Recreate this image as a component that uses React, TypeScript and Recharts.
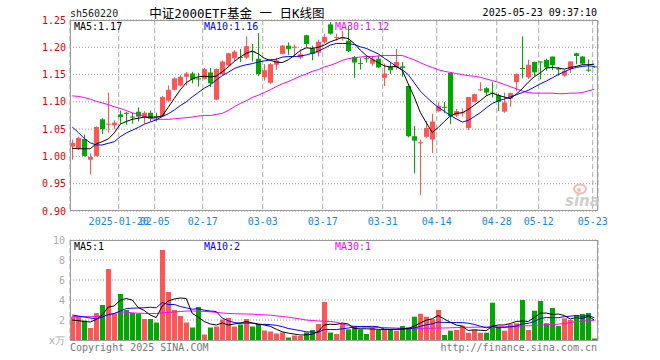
import React from "react";
import { ComposedChart, Bar, Line, XAxis, YAxis, CartesianGrid } from "recharts";

// 560220 daily candles, 2025-01-08 .. 2025-05-23
const dates = [
  "2025-01-08", "2025-01-09", "2025-01-10", "2025-01-13", "2025-01-14", "2025-01-15", "2025-01-16", "2025-01-17", "2025-01-20", "2025-01-21",
  "2025-01-22", "2025-01-23", "2025-01-24", "2025-01-27", "2025-02-05", "2025-02-06", "2025-02-07", "2025-02-10", "2025-02-11", "2025-02-12",
  "2025-02-13", "2025-02-14", "2025-02-17", "2025-02-18", "2025-02-19", "2025-02-20", "2025-02-21", "2025-02-24", "2025-02-25", "2025-02-26",
  "2025-02-27", "2025-02-28", "2025-03-03", "2025-03-04", "2025-03-05", "2025-03-06", "2025-03-07", "2025-03-10", "2025-03-11", "2025-03-12",
  "2025-03-13", "2025-03-14", "2025-03-17", "2025-03-18", "2025-03-19", "2025-03-20", "2025-03-21", "2025-03-24", "2025-03-25", "2025-03-26",
  "2025-03-27", "2025-03-28", "2025-03-31", "2025-04-01", "2025-04-02", "2025-04-03", "2025-04-07", "2025-04-08", "2025-04-09", "2025-04-10",
  "2025-04-11", "2025-04-14", "2025-04-15", "2025-04-16", "2025-04-17", "2025-04-18", "2025-04-21", "2025-04-22", "2025-04-23", "2025-04-24",
  "2025-04-25", "2025-04-28", "2025-04-29", "2025-04-30", "2025-05-06", "2025-05-07", "2025-05-08", "2025-05-09", "2025-05-12", "2025-05-13",
  "2025-05-14", "2025-05-15", "2025-05-16", "2025-05-19", "2025-05-20", "2025-05-21", "2025-05-22", "2025-05-23",
];

const open = [
  1.018, 1.014, 1.032, 0.994, 1.001, 1.068, 1.059, 1.057, 1.077, 1.080,
  1.073, 1.082, 1.071, 1.080, 1.073, 1.074, 1.102, 1.122, 1.130, 1.146,
  1.152, 1.143, 1.142, 1.154, 1.104, 1.151, 1.167, 1.180, 1.182, 1.181,
  1.193, 1.179, 1.145, 1.135, 1.168, 1.188, 1.203, 1.199, 1.181, 1.222,
  1.198, 1.190, 1.209, 1.242, 1.217, 1.217, 1.212, 1.182, 1.171, 1.180,
  1.170, 1.179, 1.144, 1.164, 1.163, 1.165, 1.129, 1.037, 1.024, 1.036,
  1.031, 1.083, 1.091, 1.153, 1.075, 1.079, 1.052, 1.100, 1.121, 1.125,
  1.117, 1.112, 1.082, 1.106, 1.136, 1.162, 1.145, 1.173, 1.174, 1.177,
  1.183, 1.161, 1.148, 1.160, 1.189, 1.183, 1.159, 1.165,
];
const close = [
  1.025, 1.034, 1.001, 0.999, 1.054, 1.050, 1.060, 1.062, 1.072, 1.078,
  1.071, 1.073, 1.080, 1.069, 1.072, 1.109, 1.122, 1.143, 1.146, 1.152,
  1.141, 1.141, 1.160, 1.134, 1.160, 1.174, 1.189, 1.192, 1.181, 1.202,
  1.192, 1.151, 1.158, 1.169, 1.176, 1.203, 1.197, 1.201, 1.187, 1.206,
  1.188, 1.210, 1.219, 1.225, 1.219, 1.218, 1.193, 1.172, 1.170, 1.179,
  1.178, 1.163, 1.152, 1.158, 1.173, 1.162, 1.037, 1.029, 1.026, 1.052,
  1.064, 1.093, 1.089, 1.074, 1.083, 1.081, 1.109, 1.114, 1.123, 1.117,
  1.116, 1.100, 1.099, 1.116, 1.151, 1.161, 1.168, 1.154, 1.173, 1.163,
  1.167, 1.160, 1.157, 1.174, 1.184, 1.170, 1.158, 1.164,
];
const high = [
  1.031, 1.036, 1.040, 1.006, 1.055, 1.070, 1.117, 1.066, 1.084, 1.082,
  1.080, 1.090, 1.083, 1.084, 1.080, 1.111, 1.130, 1.145, 1.149, 1.155,
  1.155, 1.153, 1.162, 1.162, 1.161, 1.176, 1.190, 1.195, 1.197, 1.220,
  1.206, 1.226, 1.169, 1.171, 1.181, 1.204, 1.209, 1.205, 1.196, 1.223,
  1.203, 1.214, 1.225, 1.246, 1.225, 1.230, 1.240, 1.184, 1.180, 1.185,
  1.184, 1.185, 1.170, 1.172, 1.197, 1.173, 1.130, 1.056, 1.031, 1.065,
  1.078, 1.099, 1.100, 1.154, 1.087, 1.088, 1.109, 1.115, 1.136, 1.127,
  1.136, 1.115, 1.117, 1.117, 1.152, 1.220, 1.177, 1.174, 1.174, 1.179,
  1.183, 1.164, 1.159, 1.174, 1.190, 1.184, 1.178, 1.166,
];
const low = [
  0.994, 1.012, 1.000, 0.967, 1.000, 1.041, 1.044, 1.050, 1.060, 1.058,
  1.060, 1.064, 1.060, 1.064, 1.064, 1.072, 1.100, 1.121, 1.128, 1.130,
  1.134, 1.128, 1.141, 1.127, 1.103, 1.149, 1.165, 1.175, 1.173, 1.179,
  1.174, 1.147, 1.139, 1.133, 1.159, 1.187, 1.186, 1.184, 1.178, 1.200,
  1.176, 1.183, 1.207, 1.223, 1.212, 1.212, 1.191, 1.144, 1.159, 1.172,
  1.166, 1.162, 1.129, 1.151, 1.159, 1.146, 1.035, 0.969, 0.929, 1.034,
  1.006, 1.082, 1.079, 1.059, 1.072, 1.073, 1.048, 1.099, 1.120, 1.111,
  1.108, 1.083, 1.080, 1.091, 1.120, 1.143, 1.142, 1.147, 1.141, 1.157,
  1.158, 1.148, 1.146, 1.153, 1.169, 1.168, 1.155, 1.162,
];

const ma5 = [
  1.015, 1.014, 1.014, 1.014, 1.023, 1.027, 1.032, 1.043, 1.059, 1.064,
  1.068, 1.070, 1.072, 1.072, 1.072, 1.074, 1.090, 1.106, 1.122, 1.135,
  1.142, 1.146, 1.147, 1.146, 1.147, 1.155, 1.164, 1.174, 1.182, 1.189,
  1.193, 1.188, 1.180, 1.176, 1.173, 1.172, 1.177, 1.185, 1.194, 1.199,
  1.198, 1.200, 1.204, 1.210, 1.214, 1.218, 1.216, 1.207, 1.195, 1.185,
  1.178, 1.172, 1.166, 1.164, 1.165, 1.158, 1.133, 1.109, 1.081, 1.062,
  1.044, 1.053, 1.064, 1.074, 1.079, 1.080, 1.086, 1.094, 1.102, 1.111,
  1.116, 1.112, 1.109, 1.106, 1.114, 1.124, 1.136, 1.146, 1.153, 1.162,
  1.163, 1.162, 1.160, 1.163, 1.165, 1.168, 1.168, 1.169,
];
const ma10 = [
  1.054, 1.044, 1.033, 1.025, 1.021, 1.021, 1.024, 1.027, 1.036, 1.043,
  1.048, 1.053, 1.059, 1.063, 1.067, 1.073, 1.078, 1.085, 1.093, 1.100,
  1.109, 1.117, 1.125, 1.131, 1.140, 1.148, 1.154, 1.161, 1.165, 1.168,
  1.170, 1.173, 1.175, 1.177, 1.178, 1.182, 1.183, 1.183, 1.184, 1.186,
  1.189, 1.193, 1.198, 1.204, 1.207, 1.207, 1.207, 1.205, 1.201, 1.198,
  1.193, 1.188, 1.180, 1.173, 1.165, 1.159, 1.150, 1.135, 1.120, 1.109,
  1.099, 1.090, 1.083, 1.075, 1.069, 1.063, 1.066, 1.073, 1.080, 1.089,
  1.097, 1.102, 1.105, 1.109, 1.113, 1.117, 1.121, 1.127, 1.133, 1.138,
  1.144, 1.150, 1.155, 1.160, 1.163, 1.165, 1.166, 1.165,
];
const ma30 = [
  1.111, 1.110, 1.108, 1.105, 1.101, 1.098, 1.095, 1.091, 1.088, 1.084,
  1.080, 1.077, 1.074, 1.070, 1.068, 1.068, 1.068, 1.069, 1.070, 1.071,
  1.072, 1.074, 1.075, 1.075, 1.077, 1.079, 1.084, 1.091, 1.097, 1.102,
  1.108, 1.112, 1.117, 1.122, 1.128, 1.133, 1.137, 1.142, 1.147, 1.151,
  1.156, 1.159, 1.164, 1.167, 1.171, 1.176, 1.179, 1.181, 1.182, 1.183,
  1.183, 1.184, 1.185, 1.185, 1.185, 1.185, 1.181, 1.177, 1.172, 1.167,
  1.163, 1.159, 1.156, 1.154, 1.152, 1.150, 1.148, 1.147, 1.145, 1.142,
  1.139, 1.136, 1.132, 1.128, 1.124, 1.120, 1.117, 1.116, 1.116, 1.116,
  1.116, 1.115, 1.115, 1.116, 1.116, 1.117, 1.120, 1.123,
];

// volume, in 万
const vol = [
  2.3, 2.4, 1.95, 1.2, 2.7, 3.5, 7.1, 2.6, 4.6, 3.0,
  2.7, 2.65, 2.1, 2.1, 1.75, 9.0, 4.8, 3.0, 2.4, 1.75,
  1.25, 3.3, 0.55, 1.25, 1.35, 2.05, 2.2, 1.35, 1.55, 2.1,
  1.35, 1.6, 0.95, 0.85, 0.65, 0.75, 0.25, 0.45, 0.4, 0.75,
  1.0, 1.6, 3.8, 0.75, 0.6, 1.6, 1.07, 1.43, 1.07, 0.6,
  1.27, 1.0, 1.1, 1.1, 0.93, 1.4, 1.27, 2.33, 2.63, 2.33,
  2.07, 3.0, 0.5, 0.93, 1.0, 1.43, 0.73, 1.0, 0.73, 0.73,
  3.73, 1.33, 0.93, 1.57, 1.67, 4.0, 1.0, 2.93, 3.9, 1.67,
  3.2, 1.4, 2.17, 2.0, 2.5, 2.6, 2.7, 0.15,
];
const vma5 = [
  2.0, 1.93, 1.85, 1.8, 2.05, 2.5, 3.3, 3.4, 4.0, 4.15,
  4.0, 3.25, 2.95, 2.5, 2.25, 3.4, 3.9, 4.1, 4.2, 4.15,
  2.65, 2.3, 1.85, 1.6, 1.5, 1.7, 1.5, 1.6, 1.7, 1.85,
  1.7, 1.6, 1.5, 1.37, 1.08, 0.82, 0.69, 0.59, 0.5, 0.52,
  0.57, 0.84, 1.5, 1.58, 1.55, 1.7, 1.6, 1.15, 1.12, 1.12,
  1.1, 1.07, 1.05, 1.05, 1.05, 1.1, 1.15, 1.4, 1.7, 1.98,
  2.12, 2.45, 2.1, 1.78, 1.5, 1.38, 0.95, 1.02, 0.98, 0.93,
  1.38, 1.5, 1.5, 1.65, 1.85, 1.9, 1.85, 2.25, 2.68, 2.7,
  2.55, 2.6, 2.45, 2.1, 2.25, 2.15, 2.38, 2.0,
];
const vma10 = [
  2.5, 2.4, 2.3, 2.2, 2.1, 2.3, 2.55, 2.65, 2.9, 3.14,
  3.18, 3.2, 3.22, 3.28, 3.22, 3.75, 3.55, 3.55, 3.35, 3.22,
  3.08, 3.12, 2.98, 2.9, 2.85, 2.2, 1.92, 1.75, 1.67, 1.7,
  1.7, 1.55, 1.57, 1.53, 1.47, 1.34, 1.15, 1.05, 0.94, 0.82,
  0.78, 0.77, 1.05, 1.04, 1.04, 1.12, 1.2, 1.3, 1.36, 1.35,
  1.37, 1.32, 1.1, 1.08, 1.1, 1.1, 1.12, 1.2, 1.36, 1.52,
  1.62, 1.8, 1.76, 1.74, 1.74, 1.74, 1.68, 1.56, 1.38, 1.22,
  1.35, 1.22, 1.25, 1.32, 1.38, 1.62, 1.66, 1.85, 2.15, 2.25,
  2.22, 2.23, 2.33, 2.38, 2.45, 2.35, 2.48, 2.22,
];
const vma30 = [
  2.35, 2.34, 2.33, 2.33, 2.35, 2.4, 2.5, 2.65, 2.8, 2.8,
  2.72, 2.68, 2.66, 2.65, 2.65, 2.72, 2.76, 2.8, 2.85, 2.9,
  2.9, 2.88, 2.86, 2.82, 2.76, 2.7, 2.66, 2.63, 2.61, 2.6,
  2.58, 2.55, 2.52, 2.48, 2.42, 2.35, 2.28, 2.2, 2.1, 2.0,
  1.95, 1.9, 1.88, 1.85, 1.78, 1.6, 1.45, 1.35, 1.3, 1.28,
  1.27, 1.26, 1.25, 1.22, 1.2, 1.18, 1.17, 1.17, 1.17, 1.17,
  1.18, 1.2, 1.2, 1.22, 1.24, 1.26, 1.27, 1.28, 1.29, 1.3,
  1.32, 1.32, 1.33, 1.35, 1.36, 1.4, 1.42, 1.45, 1.5, 1.52,
  1.55, 1.58, 1.65, 1.75, 1.85, 1.9, 1.93, 1.93,
];

const tickDates = [
  "2025-01-20", "2025-02-05", "2025-02-17", "2025-03-03", "2025-03-17",
  "2025-03-31", "2025-04-14", "2025-04-28", "2025-05-12", "2025-05-23",
];
const priceTicks = [0.9, 0.95, 1.0, 1.05, 1.1, 1.15, 1.2, 1.25];
const volTicks = [0, 2, 4, 6, 8, 10];

const RED = "#ff5555";
const GREEN = "#00a800";
const MONO = "'DejaVu Sans Mono', monospace";

const rows = dates.map((d, i) => ({
  i,
  date: d,
  open: open[i],
  close: close[i],
  high: high[i],
  low: low[i],
  ma5: ma5[i],
  ma10: ma10[i],
  ma30: ma30[i],
  vol: vol[i],
  vma5: vma5[i],
  vma10: vma10[i],
  vma30: vma30[i],
}));

// gridlines sit a little left of the candle centre, like the original
const xTicks = tickDates.map((d) => dates.indexOf(d) - 0.25);
const xDomain = [-0.37, 87.63];
const fmtDate = (v: number) => {
  const d = dates[Math.round(v)] || "";
  return v < 10 ? d : d.slice(5);
};

const Candle = (props: any) => {
  const { x, y, width, height, payload } = props;
  if (!payload) return null;
  const { open: o, close: c, high: h, low: l } = payload;
  const top = Math.min(y, y + height);
  const span = Math.abs(height);
  const yOf = (v: number) => top + (h === l ? 0 : ((h - v) / (h - l)) * span);
  const cx = Math.round(x + width / 2);
  const color = c >= o ? RED : GREEN;
  const bTop = yOf(Math.max(o, c));
  const bBot = yOf(Math.min(o, c));
  return (
    <g>
      <line x1={cx + 0.5} x2={cx + 0.5} y1={top} y2={top + span} stroke={color} strokeWidth={1} />
      <rect x={cx - 2} y={bTop} width={5} height={Math.max(1, bBot - bTop)} fill={color} />
    </g>
  );
};

const VolBar = (props: any) => {
  const { x, y, width, height, payload } = props;
  if (!payload) return null;
  const cx = Math.round(x + width / 2);
  const color = payload.close >= payload.open ? RED : GREEN;
  return <rect x={cx - 2} y={y} width={5} height={Math.max(0, height)} fill={color} />;
};

const monoTick = (fill: string) => ({ fill, fontSize: 10, fontFamily: MONO });

export default function App() {
  return (
    <div style={{ position: "absolute", left: 0, top: 0, width: 660, height: 360, background: "#fff" }}>
      <div style={{ position: "absolute", left: 0, top: 0 }}>
        <ComposedChart width={660} height={232} data={rows} margin={{ top: 20, right: 62, bottom: 0, left: 10 }}>
          <CartesianGrid vertical={false} stroke="#999" strokeDasharray="1 2" />
          <CartesianGrid horizontal={false} stroke="#aaa" strokeDasharray="5 3" />
          <XAxis
            dataKey="i"
            type="number"
            domain={xDomain}
            allowDataOverflow
            ticks={xTicks}
            interval={0}
            tickFormatter={fmtDate}
            axisLine={false}
            tickLine={false}
            tickSize={0}
            tickMargin={7}
            height={21}
            tick={monoTick("#1a87e6")}
          />
          <YAxis
            domain={[0.9, 1.25]}
            allowDataOverflow
            ticks={priceTicks}
            interval={0}
            tickFormatter={(v: number) => v.toFixed(2)}
            axisLine={false}
            tickLine={false}
            tickSize={0}
            tickMargin={4}
            width={60}
            tick={monoTick("#e00000")}
          />
          <Bar
            dataKey={(d: any) => [d.low, d.high]}
            barSize={5}
            shape={<Candle />}
            isAnimationActive={false}
          />
          <Line type="linear" dataKey="ma30" stroke="#ff00ff" strokeWidth={1} dot={false} isAnimationActive={false} />
          <Line type="linear" dataKey="ma10" stroke="#0000ff" strokeWidth={1} dot={false} isAnimationActive={false} />
          <Line type="linear" dataKey="ma5" stroke="#000" strokeWidth={1} dot={false} isAnimationActive={false} />
        </ComposedChart>
      </div>

      <div style={{ position: "absolute", left: 0, top: 229 }}>
        <ComposedChart width={660} height={121} data={rows} margin={{ top: 11, right: 62, bottom: 10, left: 10 }}>
          <CartesianGrid vertical={false} stroke="#999" strokeDasharray="1 2" />
          <CartesianGrid horizontal={false} stroke="#aaa" strokeDasharray="5 3" />
          <XAxis
            dataKey="i"
            type="number"
            domain={xDomain}
            allowDataOverflow
            ticks={xTicks}
            interval={0}
            tick={false}
            axisLine={false}
            tickLine={false}
            height={0}
          />
          <YAxis
            domain={[0, 10]}
            allowDataOverflow
            ticks={volTicks}
            interval={0}
            tickFormatter={(v: number) => (v === 0 ? "x万" : String(v))}
            axisLine={false}
            tickLine={false}
            tickSize={0}
            tickMargin={5}
            width={60}
            tick={monoTick("#aaa")}
          />
          <Bar dataKey="vol" barSize={5} shape={<VolBar />} isAnimationActive={false} />
          <Line type="linear" dataKey="vma30" stroke="#ff00ff" strokeWidth={1} dot={false} isAnimationActive={false} />
          <Line type="linear" dataKey="vma10" stroke="#0000ff" strokeWidth={1} dot={false} isAnimationActive={false} />
          <Line type="linear" dataKey="vma5" stroke="#000" strokeWidth={1} dot={false} isAnimationActive={false} />
        </ComposedChart>
      </div>

      <svg
        width={660}
        height={360}
        style={{ position: "absolute", left: 0, top: 0, pointerEvents: "none" }}
        fontFamily={MONO}
        fontSize={10}
      >
        <rect x={70.5} y={20.5} width={527} height={190} fill="none" stroke="#999" />
        <rect x={70.5} y={240.5} width={527} height={100} fill="none" stroke="#999" />

        <text x={70} y={17} fill="#222">sh560220</text>
        <text x={237} y={17.5} textAnchor="middle" fontSize={12.5} fill="#000" fontFamily="'DejaVu Sans Mono', 'Noto Sans CJK SC', sans-serif">
          中证2000ETF基金 一 日K线图
        </text>
        <text x={597} y={16} textAnchor="end" fill="#000">2025-05-23 09:37:10</text>

        <text x={74} y={29.5} fill="#000">MA5:1.17</text>
        <text x={204} y={29.5} fill="#0000ff">MA10:1.16</text>
        <text x={335} y={29.5} fill="#ff00ff">MA30:1.12</text>

        <text x={74} y={250} fill="#000">MA5:1</text>
        <text x={204} y={250} fill="#0000ff">MA10:2</text>
        <text x={335} y={250} fill="#ff00ff">MA30:1</text>

        <text x={70} y={351} fill="#777">Copyright 2025 SINA.COM</text>
        <text x={597} y={351} textAnchor="end" fill="#777">http://finance.sina.com.cn</text>

        <g opacity={0.8}>
          <ellipse cx={580} cy={189} rx={6} ry={4.5} fill="none" stroke="#f4a8a8" strokeWidth={2} />
          <circle cx={579} cy={190} r={2} fill="#f4a8a8" />
          <text x={565} y={206} fontSize={15} fontStyle="italic" fontWeight="bold" fill="#c4c4c4" fontFamily="'DejaVu Sans', sans-serif">
            sina
          </text>
        </g>
      </svg>
    </div>
  );
}
